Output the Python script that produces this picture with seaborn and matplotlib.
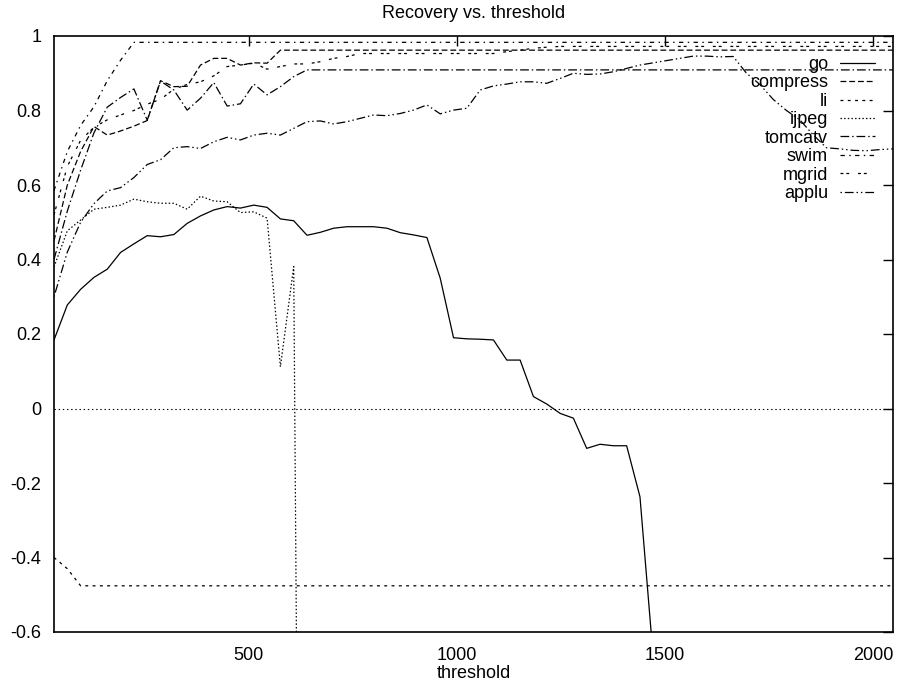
import numpy as np
import pandas as pd
import matplotlib
matplotlib.use("Agg")
import matplotlib.pyplot as plt
from matplotlib.lines import Line2D
from matplotlib.ticker import FuncFormatter
import seaborn as sns

# Threshold sample points (every 32 up to 2048)
threshold = np.arange(32, 2049, 32)

benchmarks = ["go", "compress", "li", "ijpeg", "tomcatv", "swim", "mgrid", "applu"]

go = [0.184, 0.278, 0.32, 0.352, 0.374, 0.419, 0.442, 0.464, 0.461, 0.467,
      0.497, 0.517, 0.533, 0.542, 0.538, 0.546, 0.540, 0.509, 0.504, 0.465,
      0.473, 0.484, 0.488, 0.488, 0.488, 0.484, 0.472, 0.466, 0.459, 0.35,
      0.19, 0.187, 0.186, 0.184, 0.13, 0.13, 0.032, 0.012, -0.013, -0.026,
      -0.107, -0.096, -0.100, -0.100, -0.237, -0.67]

compress = [0.45, 0.60, 0.69, 0.757, 0.734, 0.745, 0.758, 0.773, 0.880, 0.864,
            0.865, 0.922, 0.940, 0.940, 0.922, 0.928, 0.927, 0.962, 0.962, 0.962,
            0.962, 0.962, 0.962, 0.962, 0.962, 0.962, 0.962, 0.962, 0.962, 0.962,
            0.962, 0.962, 0.962, 0.962, 0.962, 0.962, 0.962, 0.962, 0.962, 0.962,
            0.962, 0.962, 0.962, 0.962, 0.962, 0.962, 0.962, 0.962, 0.962, 0.962,
            0.962, 0.962, 0.962, 0.962, 0.962, 0.962, 0.962, 0.962, 0.962, 0.962,
            0.962, 0.962, 0.962, 0.962]

li = [-0.40, -0.43, -0.476, -0.476, -0.476, -0.476, -0.476, -0.476, -0.476, -0.476,
      -0.476, -0.476, -0.476, -0.476, -0.476, -0.476, -0.476, -0.476, -0.476, -0.476,
      -0.476, -0.476, -0.476, -0.476, -0.476, -0.476, -0.476, -0.476, -0.476, -0.476,
      -0.476, -0.476, -0.476, -0.476, -0.476, -0.476, -0.476, -0.476, -0.476, -0.476,
      -0.476, -0.476, -0.476, -0.476, -0.476, -0.476, -0.476, -0.476, -0.476, -0.476,
      -0.476, -0.476, -0.476, -0.476, -0.476, -0.476, -0.476, -0.476, -0.476, -0.476,
      -0.476, -0.476, -0.476, -0.476]

ijpeg = [0.38, 0.477, 0.506, 0.535, 0.540, 0.546, 0.562, 0.555, 0.551, 0.551,
         0.535, 0.570, 0.557, 0.555, 0.526, 0.528, 0.511, 0.112, 0.381, -4.5]

tomcatv = [0.40, 0.53, 0.64, 0.74, 0.809, 0.835, 0.858, 0.774, 0.879, 0.855,
           0.801, 0.833, 0.875, 0.812, 0.818, 0.871, 0.842, 0.864, 0.891, 0.909,
           0.909, 0.909, 0.909, 0.909, 0.909, 0.909, 0.909, 0.909, 0.909, 0.909,
           0.909, 0.909, 0.909, 0.909, 0.909, 0.909, 0.909, 0.909, 0.909, 0.909,
           0.909, 0.909, 0.909, 0.909, 0.909, 0.909, 0.909, 0.909, 0.909, 0.909,
           0.909, 0.909, 0.909, 0.909, 0.909, 0.909, 0.909, 0.909, 0.909, 0.909,
           0.909, 0.909, 0.909, 0.909]

swim = [0.585, 0.69, 0.76, 0.81, 0.88, 0.935, 0.983, 0.983, 0.983, 0.983,
        0.983, 0.983, 0.983, 0.983, 0.983, 0.983, 0.983, 0.983, 0.983, 0.983,
        0.983, 0.983, 0.983, 0.983, 0.983, 0.983, 0.983, 0.983, 0.983, 0.983,
        0.983, 0.983, 0.983, 0.983, 0.983, 0.983, 0.983, 0.983, 0.983, 0.983,
        0.983, 0.983, 0.983, 0.983, 0.983, 0.983, 0.983, 0.983, 0.983, 0.983,
        0.983, 0.983, 0.983, 0.983, 0.983, 0.983, 0.983, 0.983, 0.983, 0.983,
        0.983, 0.983, 0.983, 0.983]

mgrid = [0.52, 0.65, 0.72, 0.755, 0.775, 0.788, 0.80, 0.817, 0.830, 0.857,
         0.870, 0.877, 0.893, 0.918, 0.922, 0.927, 0.911, 0.918, 0.925, 0.925,
         0.931, 0.940, 0.945, 0.953, 0.953, 0.953, 0.953, 0.953, 0.953, 0.953,
         0.953, 0.953, 0.953, 0.953, 0.958, 0.962, 0.967, 0.970, 0.972, 0.972,
         0.972, 0.972, 0.972, 0.972, 0.972, 0.972, 0.972, 0.972, 0.972, 0.972,
         0.972, 0.972, 0.972, 0.972, 0.972, 0.972, 0.972, 0.972, 0.972, 0.972,
         0.972, 0.972, 0.972, 0.972]

applu = [0.30, 0.42, 0.50, 0.55, 0.584, 0.593, 0.62, 0.655, 0.668, 0.70,
         0.703, 0.698, 0.716, 0.728, 0.721, 0.734, 0.739, 0.734, 0.752, 0.770,
         0.772, 0.764, 0.770, 0.779, 0.788, 0.786, 0.792, 0.801, 0.815, 0.791,
         0.801, 0.806, 0.855, 0.866, 0.871, 0.877, 0.877, 0.873, 0.886, 0.900,
         0.897, 0.898, 0.904, 0.913, 0.922, 0.928, 0.934, 0.940, 0.946, 0.946,
         0.944, 0.945, 0.90, 0.87, 0.83, 0.80, 0.775, 0.735, 0.70, 0.697,
         0.693, 0.692, 0.695, 0.697]

series = {"go": go, "compress": compress, "li": li, "ijpeg": ijpeg,
          "tomcatv": tomcatv, "swim": swim, "mgrid": mgrid, "applu": applu}

# gnuplot PostScript line types (dash lengths in points)
dash_unit = 1.05
base_dashes = {
    "go": None,
    "compress": (4, 2),
    "li": (2, 3),
    "ijpeg": (1, 1.5),
    "tomcatv": (6, 2, 1, 2),
    "swim": (3, 3, 1, 3),
    "mgrid": (2, 2, 2, 6),
    "applu": (1, 2, 6, 2, 1, 2),
}
dashes = {k: ("" if v is None else tuple(d * dash_unit for d in v))
          for k, v in base_dashes.items()}

sns.set_style("white")
plt.rcParams.update({
    "font.family": ["Liberation Sans", "DejaVu Sans"],
    "font.size": 13,
    "axes.unicode_minus": False,
    "lines.scale_dashes": False,
    "text.color": "black",
    "axes.labelcolor": "black",
    "xtick.color": "black",
    "ytick.color": "black",
    "axes.edgecolor": "black",
})

frames = []
for name in benchmarks:
    vals = series[name]
    frames.append(pd.DataFrame({
        "threshold": threshold[:len(vals)],
        "recovery": vals,
        "benchmark": name,
    }))
df = pd.concat(frames, ignore_index=True)

fig, ax = plt.subplots(figsize=(8.98, 6.85), dpi=100)
fig.subplots_adjust(left=54 / 898, right=893 / 898,
                    bottom=1 - 632 / 685, top=1 - 36 / 685)

line_w = 0.9
sns.lineplot(data=df, x="threshold", y="recovery",
             hue="benchmark", style="benchmark",
             hue_order=benchmarks, style_order=benchmarks,
             palette={b: "black" for b in benchmarks},
             dashes=dashes, linewidth=line_w,
             estimator=None, sort=False, legend=False, ax=ax)

# zero axis
ax.axhline(0, color="black", lw=0.8, linestyle=(0, (1, 2)), zorder=1)

ax.set_xlim(32, 2048)
ax.set_ylim(-0.6, 1)
ax.set_xticks([500, 1000, 1500, 2000])
ax.set_yticks([-0.6, -0.4, -0.2, 0, 0.2, 0.4, 0.6, 0.8, 1])
ax.yaxis.set_major_formatter(FuncFormatter(lambda v, p: f"{v:g}"))
ax.tick_params(direction="in", length=7, width=1, top=True, right=True,
               labelsize=13)
ax.tick_params(axis="x", pad=11)
ax.tick_params(axis="y", pad=9)
for sp in ax.spines.values():
    sp.set_linewidth(1.2)
    sp.set_color("black")

ax.set_xlabel("threshold", fontsize=13, labelpad=0.5)
ax.set_ylabel("")
ax.set_title("Recovery vs. threshold", fontsize=13, pad=13)

handles = []
for name in benchmarks:
    d = dashes[name]
    ls = "-" if d == "" else (0, d)
    handles.append(Line2D([], [], color="black", lw=line_w, linestyle=ls))
ax.legend(handles, benchmarks, loc="upper right",
          bbox_to_anchor=(0.9785, 0.9665), markerfirst=False, frameon=False,
          handlelength=1.94, handletextpad=0.66, labelspacing=0.08,
          borderpad=0, borderaxespad=0, fontsize=13)

fig.savefig("out.png", dpi=100)
